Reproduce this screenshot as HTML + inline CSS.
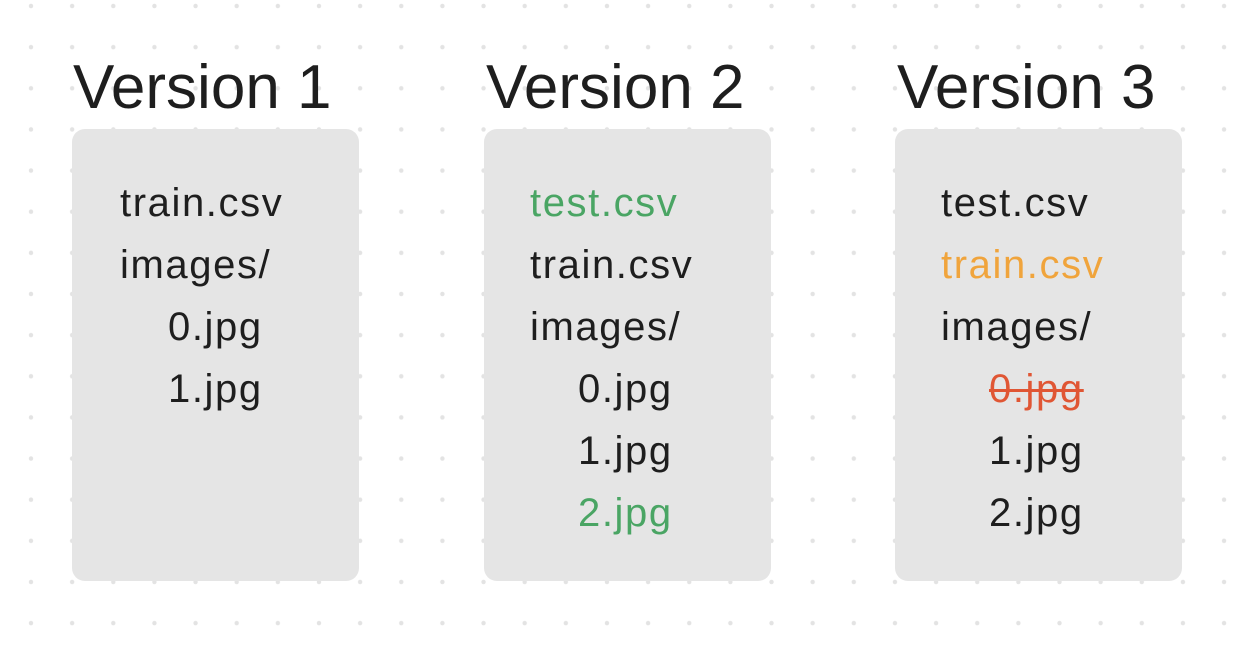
<!DOCTYPE html>
<html><head><style>
body{margin:0;width:1244px;height:646px;background:#fff;position:relative;overflow:hidden;font-family:"Liberation Sans",sans-serif;}
svg.bg{position:absolute;left:0;top:0}
.t{position:absolute;font-size:62px;color:#1e1e1e;line-height:1;}
.box{position:absolute;top:129px;width:287px;height:452px;background:#e5e5e5;border-radius:13px;}
.i{position:absolute;font-size:40px;letter-spacing:1.6px;color:#1e1e1e;line-height:1;white-space:nowrap}
.g{color:#4aa564}.o{color:#f0a43c}.r{color:#e05634;text-decoration:line-through;text-decoration-thickness:3px}
</style></head><body>
<svg class="bg" width="1244" height="646"><defs><pattern id="p" x="31" y="6" width="41.14" height="41.14" patternUnits="userSpaceOnUse"><circle cx="0" cy="0" r="2.2" fill="#e3e3e3"/><circle cx="41.14" cy="0" r="2.2" fill="#e3e3e3"/><circle cx="0" cy="41.14" r="2.2" fill="#e3e3e3"/><circle cx="41.14" cy="41.14" r="2.2" fill="#e3e3e3"/></pattern></defs><rect width="1244" height="646" fill="url(#p)"/></svg>
<div class="t" style="left:73px;top:57px">Version 1</div>
<div class="t" style="left:486px;top:57px">Version 2</div>
<div class="t" style="left:897px;top:57px">Version 3</div>
<div class="box" style="left:72px"></div>
<div class="box" style="left:484px"></div>
<div class="box" style="left:895px"></div>
<div class="i" style="left:120px;top:183px">train.csv</div>
<div class="i" style="left:120px;top:245px">images/</div>
<div class="i" style="left:168px;top:307px">0.jpg</div>
<div class="i" style="left:168px;top:369px">1.jpg</div>

<div class="i g" style="left:530px;top:183px">test.csv</div>
<div class="i" style="left:530px;top:245px">train.csv</div>
<div class="i" style="left:530px;top:307px">images/</div>
<div class="i" style="left:578px;top:369px">0.jpg</div>
<div class="i" style="left:578px;top:431px">1.jpg</div>
<div class="i g" style="left:578px;top:493px">2.jpg</div>

<div class="i" style="left:941px;top:183px">test.csv</div>
<div class="i o" style="left:941px;top:245px">train.csv</div>
<div class="i" style="left:941px;top:307px">images/</div>
<div class="i r" style="left:989px;top:369px">0.jpg</div>
<div class="i" style="left:989px;top:431px">1.jpg</div>
<div class="i" style="left:989px;top:493px">2.jpg</div>
</body></html>
